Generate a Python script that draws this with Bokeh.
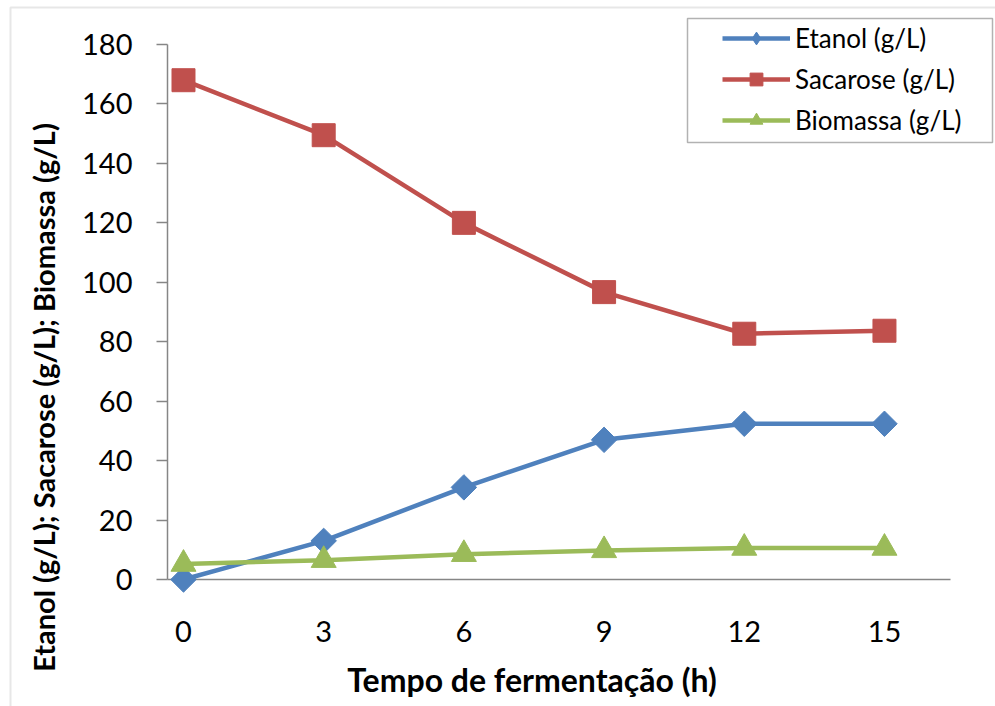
import numpy as np
from bokeh.plotting import figure
from bokeh.models import Range1d, FixedTicker, Label, Legend, LegendItem, BoxAnnotation
from bokeh.embed import file_html
from bokeh.resources import INLINE

# ---- data ----
tempo = [0, 3, 6, 9, 12, 15]
etanol = [0, 13, 31, 47, 52.4, 52.4]
sacarose = [168, 149.5, 120, 96.7, 82.7, 83.7]
biomassa = [5.2, 6.5, 8.5, 9.8, 10.6, 10.6]
y_ticks = [0, 20, 40, 60, 80, 100, 120, 140, 160, 180]
x_ticks = [0, 3, 6, 9, 12, 15]
series_names = ["Etanol (g/L)", "Sacarose (g/L)", "Biomassa (g/L)"]
x_title = "Tempo de fermentação (h)"
y_title = "Etanol (g/L); Sacarose (g/L); Biomassa (g/L)"

AXIS_GRAY = "#868686"
W, H = 995, 706

# frame covers the whole canvas; axes are placed at fixed data locations
X0, X1 = -3.916, 17.376
Y0, Y1 = -42.73, 194.82
Y_AXIS_AT = -0.3424      # where the value axis crosses
X_AXIS_END = 16.413

p = figure(width=W, height=H,
           x_range=Range1d(X0, X1), y_range=Range1d(Y0, Y1),
           output_backend="svg", toolbar_location=None,
           min_border_left=0, min_border_right=0,
           min_border_top=0, min_border_bottom=0)
p.background_fill_color = "white"
p.border_fill_color = "white"
p.outline_line_color = None
p.grid.visible = False

# x axis
xa = p.xaxis[0]
xa.fixed_location = 0
xa.bounds = (Y_AXIS_AT, X_AXIS_END)
xa.level = "underlay"
xa.ticker = FixedTicker(ticks=x_ticks)
xa.axis_line_color = AXIS_GRAY
xa.axis_line_width = 1.5
xa.major_tick_out = 0
xa.major_tick_in = 0
xa.minor_tick_out = 0
xa.minor_tick_in = 0
xa.major_label_standoff = 41
xa.major_label_text_font = "Lato"
xa.major_label_text_font_size = "29px"
xa.major_label_text_color = "black"

# y axis
ya = p.yaxis[0]
ya.fixed_location = Y_AXIS_AT
ya.bounds = (0, 180)
ya.level = "underlay"
ya.ticker = FixedTicker(ticks=y_ticks)
ya.axis_line_color = AXIS_GRAY
ya.axis_line_width = 1.5
ya.major_tick_line_color = AXIS_GRAY
ya.major_tick_line_width = 1.5
ya.major_tick_out = 11
ya.major_tick_in = 0
ya.minor_tick_out = 0
ya.minor_tick_in = 0
ya.major_label_standoff = 24
ya.major_label_text_font = "Lato"
ya.major_label_text_font_size = "29px"
ya.major_label_text_color = "black"

colors = ["#4F81BD", "#C0504D", "#9BBB59"]
series = [etanol, sacarose, biomassa]
markers = ["square", "square", "triangle"]
legend_markers = ["diamond", "square", "triangle"]
angles = [np.pi / 4, 0, 0]
sizes = [18, 23, 25]

items = []
for name, ys, c, m, lm, a, s in zip(series_names, series, colors, markers,
                                     legend_markers, angles, sizes):
    lr = p.line(tempo, ys, line_color=c, line_width=4.5)
    if lm != m:
        # small marker of the legend shape, fully hidden under the data marker
        kr = p.scatter(tempo, ys, marker=lm, size=14, fill_color=c, line_color=c)
        p.scatter(tempo, ys, marker=m, angle=a, size=s, fill_color=c, line_color=c)
        items.append(LegendItem(label=name, renderers=[lr, kr]))
    else:
        sr = p.scatter(tempo, ys, marker=m, angle=a, size=s, fill_color=c, line_color=c)
        items.append(LegendItem(label=name, renderers=[lr, sr]))

legend = Legend(items=items, location=(722, 570), padding=0, margin=0,
                border_line_color=None, background_fill_alpha=0,
                glyph_width=68, glyph_height=32, label_height=24,
                spacing=9, label_standoff=5,
                label_text_font="Lato", label_text_font_size="26px",
                label_text_color="black")
p.add_layout(legend)

# legend frame
p.add_layout(BoxAnnotation(left=687, right=992, top=H - 18, bottom=H - 142,
                           left_units="screen", right_units="screen",
                           top_units="screen", bottom_units="screen",
                           fill_color=None, line_color="black", line_width=1.5,
                           level="overlay"))
# chart area border (top and left edges visible)
p.add_layout(BoxAnnotation(left=10, right=W + 20, top=H - 7, bottom=-20,
                           left_units="screen", right_units="screen",
                           top_units="screen", bottom_units="screen",
                           fill_color=None, line_color="#b0b0b0", line_width=2,
                           level="overlay"))

# axis titles
p.add_layout(Label(x=43, y=H - 397, x_units="screen", y_units="screen",
                   text=y_title, angle=np.pi / 2, text_align="center",
                   text_baseline="middle", text_font="Lato", text_font_style="bold",
                   text_font_size="29px", text_color="black"))
p.add_layout(Label(x=531.5, y=H - 679, x_units="screen", y_units="screen",
                   text=x_title, text_align="center", text_baseline="middle",
                   text_font="Lato", text_font_style="bold",
                   text_font_size="32px", text_color="black"))

open("out.html", "w").write(file_html(p, INLINE))
